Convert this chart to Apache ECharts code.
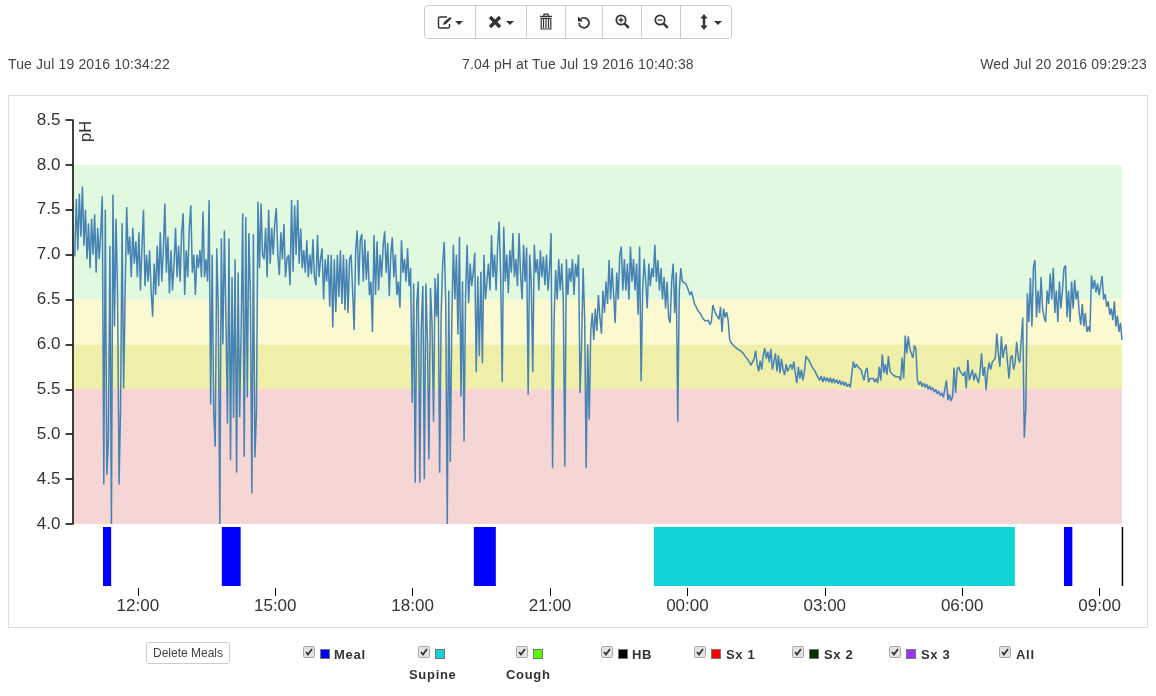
<!DOCTYPE html>
<html>
<head>
<meta charset="utf-8">
<title>pH trace</title>
<script src="https://cdn.jsdelivr.net/npm/echarts@6/dist/echarts.min.js"></script>
<style>
  html, body { margin: 0; padding: 0; background: #fff; }
  body { width: 1156px; height: 696px; overflow: hidden; position: relative; font-family: "Liberation Sans", Arial, sans-serif; color: #333; }
  #panel { position: absolute; left: 8px; top: 95px; width: 1138px; height: 531px; border: 1px solid #ddd; }
  #chart { position: absolute; left: 0; top: 0; width: 1156px; height: 696px; }
  .stamp { position: absolute; top: 56px; font-size: 14px; line-height: 16px; letter-spacing: 0.15px; color: #444; white-space: nowrap; }
  #toolbar { position: absolute; left: 424px; top: 5px; width: 306px; height: 32px; border: 1px solid #ccc; border-radius: 4px; }
  #toolbar .sep { position: absolute; top: 0; width: 1px; height: 32px; background: #ccc; }
  #toolbar svg { position: absolute; }
  #delmeals { position: absolute; left: 146px; top: 642px; width: 82px; height: 20px; border: 1px solid #ccc; border-radius: 3px; font-size: 12px; line-height: 20px; text-align: center; color: #444; }
  .cb { position: absolute; width: 10px; height: 10px; border: 1px solid #aaa; border-radius: 2px; background: #e4e4e4 url("data:image/svg+xml,%3Csvg xmlns='http://www.w3.org/2000/svg' width='10' height='10'%3E%3Cpath d='M2 5l2 2.5L8 2' fill='none' stroke='%23333' stroke-width='1.8'/%3E%3C/svg%3E") no-repeat center; }
  .swatch { position: absolute; width: 8px; height: 8px; border: 1px solid #777; }
  .lbl { position: absolute; font-size: 13px; font-weight: bold; line-height: 15px; letter-spacing: 0.7px; color: #333; white-space: nowrap; }
</style>
</head>
<body>
<div id="panel"></div>
<div id="chart"></div>
<div class="stamp" style="left:8px">Tue Jul 19 2016 10:34:22</div>
<div class="stamp" style="left:462px">7.04 pH at Tue Jul 19 2016 10:40:38</div>
<div class="stamp" style="right:9px">Wed Jul 20 2016 09:29:23</div>

<div id="toolbar">
  <div class="sep" style="left:50px"></div>
  <div class="sep" style="left:101px"></div>
  <div class="sep" style="left:140px"></div>
  <div class="sep" style="left:177px"></div>
  <div class="sep" style="left:216px"></div>
  <div class="sep" style="left:255px"></div>
  <!-- edit -->
  <svg style="left:12px;top:9px" width="16" height="15" viewBox="0 0 16 15"><path d="M10 2H3a1.5 1.5 0 0 0-1.5 1.5v8A1.5 1.5 0 0 0 3 13h8a1.5 1.5 0 0 0 1.5-1.5V9" fill="none" stroke="#333" stroke-width="1.5"/><path d="M6 10l1-3 6-5 1.5 1.5-5.5 5.5z" fill="#333"/></svg>
  <svg style="left:30px;top:15px" width="8" height="4"><path d="M0 0h8L4 4z" fill="#333"/></svg>
  <!-- remove -->
  <svg style="left:63px;top:9px" width="14" height="14" viewBox="0 0 14 14"><path d="M2 2l10 10M12 2L2 12" stroke="#333" stroke-width="3.4"/></svg>
  <svg style="left:81px;top:15px" width="8" height="4"><path d="M0 0h8L4 4z" fill="#333"/></svg>
  <!-- trash -->
  <svg style="left:114px;top:7px" width="14" height="17" viewBox="0 0 14 17"><path d="M1 3.5h12M5 3V1.2h4V3" fill="none" stroke="#333" stroke-width="1.3"/><path d="M2.2 5.5h9.6V16H2.2z" fill="none" stroke="#333" stroke-width="1.2"/><path d="M4.5 6v9M7 6v9M9.5 6v9" stroke="#333" stroke-width="1.2"/></svg>
  <!-- undo -->
  <svg style="left:152px;top:9px" width="14" height="14" viewBox="0 0 14 14"><path d="M3.5 4.2A5 5 0 1 1 2 8" fill="none" stroke="#333" stroke-width="1.7"/><path d="M1 1.5v5h5z" fill="#333"/></svg>
  <!-- zoom in -->
  <svg style="left:190px;top:8px" width="15" height="15" viewBox="0 0 15 15"><circle cx="6" cy="6" r="4.7" fill="none" stroke="#333" stroke-width="1.7"/><path d="M9.5 9.5l4.3 4.3" stroke="#333" stroke-width="2.4"/><path d="M3.6 6h4.8M6 3.6v4.8" stroke="#333" stroke-width="1.3"/></svg>
  <!-- zoom out -->
  <svg style="left:229px;top:8px" width="15" height="15" viewBox="0 0 15 15"><circle cx="6" cy="6" r="4.7" fill="none" stroke="#333" stroke-width="1.7"/><path d="M9.5 9.5l4.3 4.3" stroke="#333" stroke-width="2.4"/><path d="M3.6 6h4.8" stroke="#333" stroke-width="1.3"/></svg>
  <!-- vertical resize -->
  <svg style="left:275px;top:8px" width="8" height="16" viewBox="0 0 8 16"><path d="M4 0l3.6 4.4H5.2v7.2h2.4L4 16 .4 11.6h2.4V4.4H.4z" fill="#333"/></svg>
  <svg style="left:289px;top:15px" width="8" height="4"><path d="M0 0h8L4 4z" fill="#333"/></svg>
</div>

<div id="delmeals">Delete Meals</div>
<div id="legend"></div>

<script>
// recording window
const axisStart = '2016-07-19T10:34:22'
const axisEnd = '2016-07-20T09:29:23'
const traceStart = '2016-07-19T10:37:22'
const sampleMinutes = 2

// pH, one list per ~hour of recording
const ph0 = [6.98,7.62,7.05,7.68,7.2,7.76,7.1,7.5,6.95,7.35,6.85,7.4,7.0,7.45,6.8,7.3,6.95,7.25,7.65,4.44,7.5,4.55,4.95,7.1,4.0,7.67,6.2,7.4,6.6,4.44]
const ph1 = [5.3,7.35,5.51,6.6,7.53,7.0,7.2,6.75,7.3,6.9,7.15,6.75,7.25,6.6,7.1,7.5,6.65,7.0,6.7,7.05,6.6,6.31,6.9,6.55,7.1,6.65,7.25,6.7,7.05,7.57]
const ph2 = [6.8,7.2,6.57,7.05,6.6,6.9,7.3,6.75,7.1,6.7,7.25,7.46,6.55,7.05,6.75,7.3,7.55,6.8,7.0,6.55,7.0,6.85,7.05,6.75,7.48,6.75,6.95,6.7,7.61,5.33]
const ph3 = [7.0,5.25,4.86,7.07,6.4,4.0,7.18,6.0,7.27,6.3,5.12,7.18,4.71,6.75,5.18,6.95,4.57,6.8,5.19,6.2,7.46,4.75,7.42,5.41,7.24,6.6,4.34,7.23,4.74,5.24]
const ph4 = [7.59,6.85,7.57,7.0,6.95,7.3,6.75,7.5,6.9,7.3,7.0,7.35,7.52,7.0,6.77,7.25,6.95,7.34,6.75,6.95,7.0,6.66,7.61,6.81,7.55,7.0,7.61,6.9,7.29,6.85]
const ph5 = [7.05,6.8,7.16,6.75,7.0,6.78,7.17,6.75,6.66,7.22,6.75,6.95,7.07,6.5,6.95,6.7,7.0,6.42,7.0,6.19,6.95,6.36,7.0,6.53,7.05,6.45,7.0,6.38,6.95,6.35]
const ph6 = [6.95,7.0,6.6,6.16,7.05,7.27,6.66,7.16,7.23,6.7,7.17,6.72,7.04,6.55,6.7,6.14,7.22,6.55,7.15,6.6,7.0,6.75,7.1,7.26,6.8,7.13,6.54,7.0,7.19,6.75]
const ph7 = [7.0,6.55,6.7,6.41,7.16,6.8,6.95,6.7,7.07,6.65,6.85,5.35,6.68,4.46,6.46,6.7,4.46,6.2,6.65,4.5,6.68,6.03,4.72,6.63,6.25,5.14,6.74,6.31,6.79,4.57]
const ph8 = [6.35,6.9,7.14,6.48,4.0,6.6,4.69,6.3,7.11,6.5,7.0,6.11,7.2,5.42,6.7,4.92,6.55,7.11,6.46,6.9,6.65,6.8,7.02,5.69,6.76,5.87,6.81,5.79,7.0,6.5]
const ph9 = [6.7,6.9,6.6,7.22,6.75,7.0,6.6,7.1,7.37,6.75,5.58,7.31,6.7,7.0,6.57,7.05,6.8,7.24,6.75,6.95,6.65,7.24,6.8,6.5,7.11,6.7,7.08,5.44,7.0,6.7]
const ph10 = [5.69,7.11,6.8,6.95,6.6,7.05,6.75,6.98,6.66,7.0,6.6,6.85,7.24,4.62,6.29,6.83,6.5,6.95,6.6,6.9,6.5,4.64,6.95,6.55,6.85,6.7,6.95,6.55,6.9,6.75]
const ph11 = [7.0,5.46,6.0,6.85,6.3,4.62,6.0,5.16,6.15,6.35,6.05,6.4,6.15,6.55,6.3,6.12,6.6,6.35,6.7,6.45,6.94,6.5,6.85,6.55,6.24,6.8,6.5,7.0,7.09,6.6]
const ph12 = [6.95,6.6,6.9,6.5,7.09,6.7,6.95,6.6,6.9,6.33,7.09,5.59,6.6,6.95,6.7,6.4,6.9,6.65,6.85,6.75,7.11,6.7,6.94,6.6,6.85,6.5,6.75,6.4,6.7,6.3]
const ph13 = [6.24,6.7,6.9,6.35,6.8,5.14,6.6,6.85,6.7,6.72,6.68,6.65,6.6,6.55,6.59,6.52,6.45,6.42,6.38,6.37,6.34,6.3,6.29,6.26,6.24,6.27,6.22,6.25,6.44,6.38]
const ph14 = [6.34,6.31,6.28,6.42,6.14,6.4,6.3,6.36,6.27,6.05,6.02,6.0,5.98,5.97,5.95,5.94,5.93,5.92,5.9,5.87,5.85,5.83,5.8,5.77,5.75,5.84,5.93,5.78,5.7,5.82]
const ph15 = [5.72,5.88,5.96,5.84,5.92,5.8,5.95,5.72,5.7,5.9,5.7,5.88,5.68,5.84,5.72,5.66,5.78,5.7,5.74,5.78,5.72,5.81,5.68,5.57,5.75,5.62,5.72,5.6,5.7,5.87]
const ph16 = [5.85,5.82,5.8,5.75,5.76,5.7,5.66,5.66,5.6,5.65,5.58,5.64,5.59,5.63,5.58,5.63,5.57,5.62,5.57,5.61,5.56,5.6,5.55,5.59,5.54,5.58,5.53,5.56,5.52,5.54]
const ph17 = [5.81,5.74,5.78,5.75,5.76,5.72,5.66,5.6,5.7,5.74,5.58,5.62,5.6,5.62,5.58,5.62,5.57,5.75,5.6,5.89,5.68,5.78,5.66,5.87,5.7,5.68,5.66,5.68,5.64,5.66]
const ph18 = [5.64,5.6,5.85,5.62,6.1,5.9,6.09,5.95,5.97,5.85,5.99,5.95,5.6,5.55,5.59,5.53,5.57,5.52,5.56,5.5,5.54,5.49,5.52,5.47,5.5,5.45,5.48,5.43,5.46,5.41]
const ph19 = [5.41,5.6,5.38,5.44,5.37,5.42,5.74,5.46,5.72,5.75,5.7,5.72,5.65,5.7,5.51,5.83,5.6,5.66,5.72,5.6,5.68,5.62,5.57,5.7,5.9,5.65,5.75,5.49,5.7,5.8]
const ph20 = [5.72,5.8,5.78,5.85,6.12,5.9,5.75,6.09,5.85,5.95,6.0,5.8,5.62,5.85,5.88,5.72,5.8,6.03,5.85,5.8,6.05,6.3,4.96,5.29,6.57,6.25,6.74,6.2,6.87,6.94]
const ph21 = [6.3,6.6,6.35,6.75,6.4,6.3,6.25,6.6,6.45,6.79,6.5,6.85,6.35,6.6,6.25,6.7,6.4,6.6,6.85,6.88,6.3,6.6,6.25,6.7,6.4,6.72,6.5,6.6,6.35,6.22]
const ph22 = [6.45,6.2,6.35,6.14,6.2,6.14,6.77,6.62,6.72,6.58,6.68,6.55,6.65,6.76,6.5,6.56,6.42,6.48,6.33,6.4,6.27,6.48,6.2,6.32,6.14,6.24,6.05]
const phValues = [].concat(ph0,ph1,ph2,ph3,ph4,ph5,ph6,ph7,ph8,ph9,ph10,ph11,ph12,ph13,ph14,ph15,ph16,ph17,ph18,ph19,ph20,ph21,ph22)

// background zones
const zoneLow = [6.5, 6.0, 5.5, 4.0]
const zoneHigh = [8.0, 6.5, 6.0, 5.5]
const zoneColors = ['#e0f9df', '#fbf9cf', '#f0efaa', '#f6d5d5']

// event lane
const eventStart = ['2016-07-19T11:14:20','2016-07-19T13:50:00','2016-07-19T19:20:10','2016-07-19T23:16:00','2016-07-20T08:13:20','2016-07-20T09:29:00']
const eventEnd = ['2016-07-19T11:25:00','2016-07-19T14:14:40','2016-07-19T19:49:00','2016-07-20T07:09:00','2016-07-20T08:24:20','2016-07-20T09:29:00']
const eventColors = ['#0000ff','#0000ff','#0000ff','#12d3d3','#0000ff','#000000']

const tickTimes = ['2016-07-19T12:00:00','2016-07-19T15:00:00','2016-07-19T18:00:00','2016-07-19T21:00:00','2016-07-20T00:00:00','2016-07-20T03:00:00','2016-07-20T06:00:00','2016-07-20T09:00:00']

// legend
const legendNames = ['Meal','Supine','Cough','HB','Sx 1','Sx 2','Sx 3','All']
const legendColors = ['#0000ff','#12d3d3','#55ff00','#000000','#ff0000','#003300','#9933ff',null]

const ms = s => new Date(s).getTime()
const pad = n => String(n).padStart(2, '0')

const legendCbX = [303, 418, 516, 601, 694, 792, 889, 999]
const legendLabelX = [334, 409, 506, 632, 726, 824, 921, 1016]
const legendEl = document.getElementById('legend')
legendNames.forEach((name, i) => {
  const below = name === 'Supine' || name === 'Cough'
  let html = `<span class="cb" style="left:${legendCbX[i]}px;top:646px"></span>`
  if (legendColors[i]) html += `<span class="swatch" style="left:${legendCbX[i] + 17}px;top:649px;background:${legendColors[i]}"></span>`
  html += `<span class="lbl" style="left:${legendLabelX[i]}px;top:${below ? 667 : 647}px">${name}</span>`
  legendEl.insertAdjacentHTML('beforeend', html)
})

const t0 = ms(traceStart)
const traceData = phValues.map((v, i) => [t0 + i * sampleMinutes * 60000, v])
const eventData = eventStart.map((s, i) => [ms(s), ms(eventEnd[i]), i])
const tickValues = tickTimes.map(ms)

const chart = echarts.init(document.getElementById('chart'), null, { renderer: 'canvas' })
const textFont = '"Liberation Sans", Arial, sans-serif'

chart.setOption({
  animation: false,
  grid: [
    { left: 72.5, width: 1049.5, top: 120, height: 404 },
    { left: 72.5, width: 1049.5, top: 527, height: 61 }
  ],
  xAxis: [
    { type: 'value', gridIndex: 0, min: ms(axisStart), max: ms(axisEnd), show: false },
    {
      type: 'value', gridIndex: 1, min: ms(axisStart), max: ms(axisEnd),
      axisLine: { show: false },
      splitLine: { show: false },
      axisTick: { show: true, length: 8, customValues: tickValues, lineStyle: { color: '#000', width: 1 } },
      axisLabel: {
        customValues: tickValues, margin: 10, fontSize: 17, color: '#333', fontFamily: textFont,
        showMinLabel: true, showMaxLabel: true, hideOverlap: false,
        formatter: v => { const d = new Date(v); return pad(d.getHours()) + ':' + pad(d.getMinutes()) }
      }
    }
  ],
  yAxis: [
    {
      type: 'value', gridIndex: 0, min: 4, max: 8.5, interval: 0.5, z: 5,
      splitLine: { show: false },
      axisLine: { show: true, lineStyle: { color: '#000', width: 1.5 } },
      axisTick: { show: true, length: 7, lineStyle: { color: '#000', width: 1.5 } },
      axisLabel: { margin: 12, fontSize: 17, color: '#333', fontFamily: textFont, formatter: v => v.toFixed(1) }
    },
    { type: 'value', gridIndex: 1, min: 0, max: 61, show: false }
  ],
  graphic: [{
    type: 'text', x: 78, y: 142, rotation: Math.PI / 2,
    style: { text: 'pH', font: '16.5px ' + textFont, fill: '#333', align: 'left', verticalAlign: 'top' },
    silent: true
  }],
  series: [
    {
      type: 'line', xAxisIndex: 0, yAxisIndex: 0, data: traceData,
      showSymbol: false, symbol: 'none', smooth: false,
      lineStyle: { color: '#4682b4', width: 1.5 },
      markArea: {
        silent: true,
        data: zoneLow.map((lo, i) => [
          { yAxis: lo, itemStyle: { color: zoneColors[i], opacity: 1 } },
          { yAxis: zoneHigh[i] }
        ])
      }
    },
    {
      type: 'custom', xAxisIndex: 1, yAxisIndex: 1, data: eventData,
      encode: { x: [0, 1] }, silent: true,
      renderItem: (params, api) => {
        const a = api.coord([api.value(0), 61])
        const b = api.coord([api.value(1), 2])
        const w = Math.max(b[0] - a[0], 1.5)
        return {
          type: 'rect',
          shape: { x: a[0], y: a[1], width: w, height: b[1] - a[1] },
          style: { fill: eventColors[api.value(2)] }
        }
      }
    }
  ]
})
</script>
</body>
</html>
